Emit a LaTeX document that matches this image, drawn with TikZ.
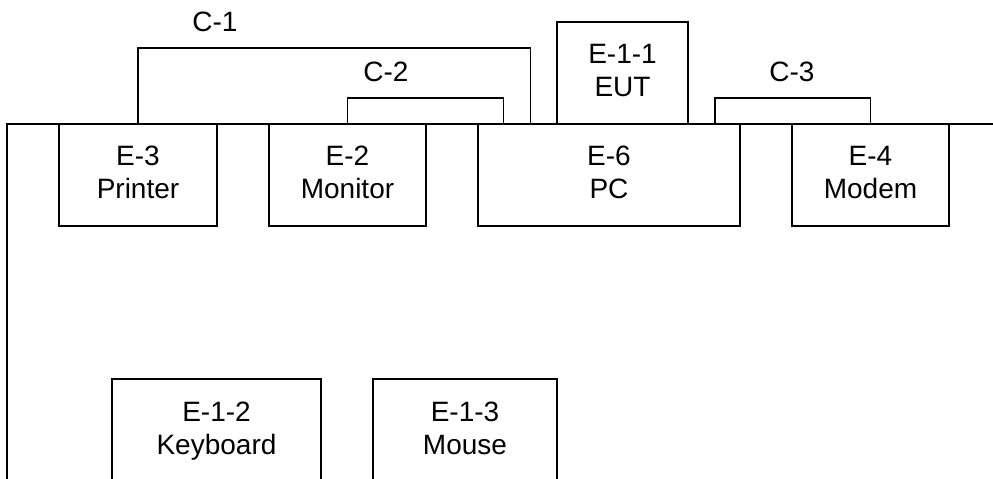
\documentclass[tikz,border=0pt]{standalone}
\usepackage{fontspec}
\setmainfont{Liberation Sans}
\usetikzlibrary{calc}
\newcommand{\twol}[2]{\strut #1\\\strut #2}
\begin{document}
\begin{tikzpicture}[x=1pt,y=-1pt,
  line width=1.5pt,
  box/.style={draw, line width=1.5pt, rectangle, inner sep=0pt, align=center,
    minimum height=102pt, font=\fontsize{28}{33}\selectfont},
  cable/.style={draw, line width=1.5pt},
  lbl/.style={inner sep=0pt, font=\fontsize{28}{33}\selectfont}]
\useasboundingbox (0,0) rectangle (993,479);
\begin{scope}
\clip (0,0) rectangle (993,479);
% bus
\coordinate (busL) at (7,124);
\coordinate (busR) at (995,124);
\coordinate (busB) at (7,481);
\draw[cable] (busR) -- (busL) -- (busB);
% boxes
\node[box, minimum width=158pt] (e3) at (138,175) {\twol{E-3}{Printer}};
\node[box, minimum width=157pt] (e2) at (347.5,175) {\twol{E-2}{Monitor}};
\node[box, minimum width=262pt] (e6) at (609,175) {\twol{E-6}{PC}};
\node[box, minimum width=157pt] (e4) at (870.5,175) {\twol{E-4}{Modem}};
\node[box, minimum width=131pt] (eut) at (622.5,73) {\twol{E-1-1}{EUT}};
\node[box, minimum width=209pt, minimum height=104pt] (kb) at (216.5,431) {\twol{E-1-2}{Keyboard}};
\node[box, minimum width=184pt, minimum height=104pt] (ms) at (465,431) {\twol{E-1-3}{Mouse}};
% cable endpoints on PC
\coordinate (p1) at ($(e6.north west)+(53,0)$);
\coordinate (p2) at ($(e6.north west)+(26,0)$);
\coordinate (p3) at ($(e6.north east)+(-26,0)$);
% cables
\draw[cable] (e3.north) -- (e3.north |- 0,48) -- (p1 |- 0,48) -- (p1);
\draw[cable] (e2.north) -- (e2.north |- 0,98) -- (p2 |- 0,98) -- (p2);
\draw[cable] (p3) -- (p3 |- 0,98) -- (e4.north |- 0,98) -- (e4.north);
% labels
\node[lbl] (c1) at (215,22) {C-1};
\node[lbl] (c2) at (386,72) {C-2};
\node[lbl] (c3) at (792,72) {C-3};
\end{scope}
\end{tikzpicture}
\end{document}
